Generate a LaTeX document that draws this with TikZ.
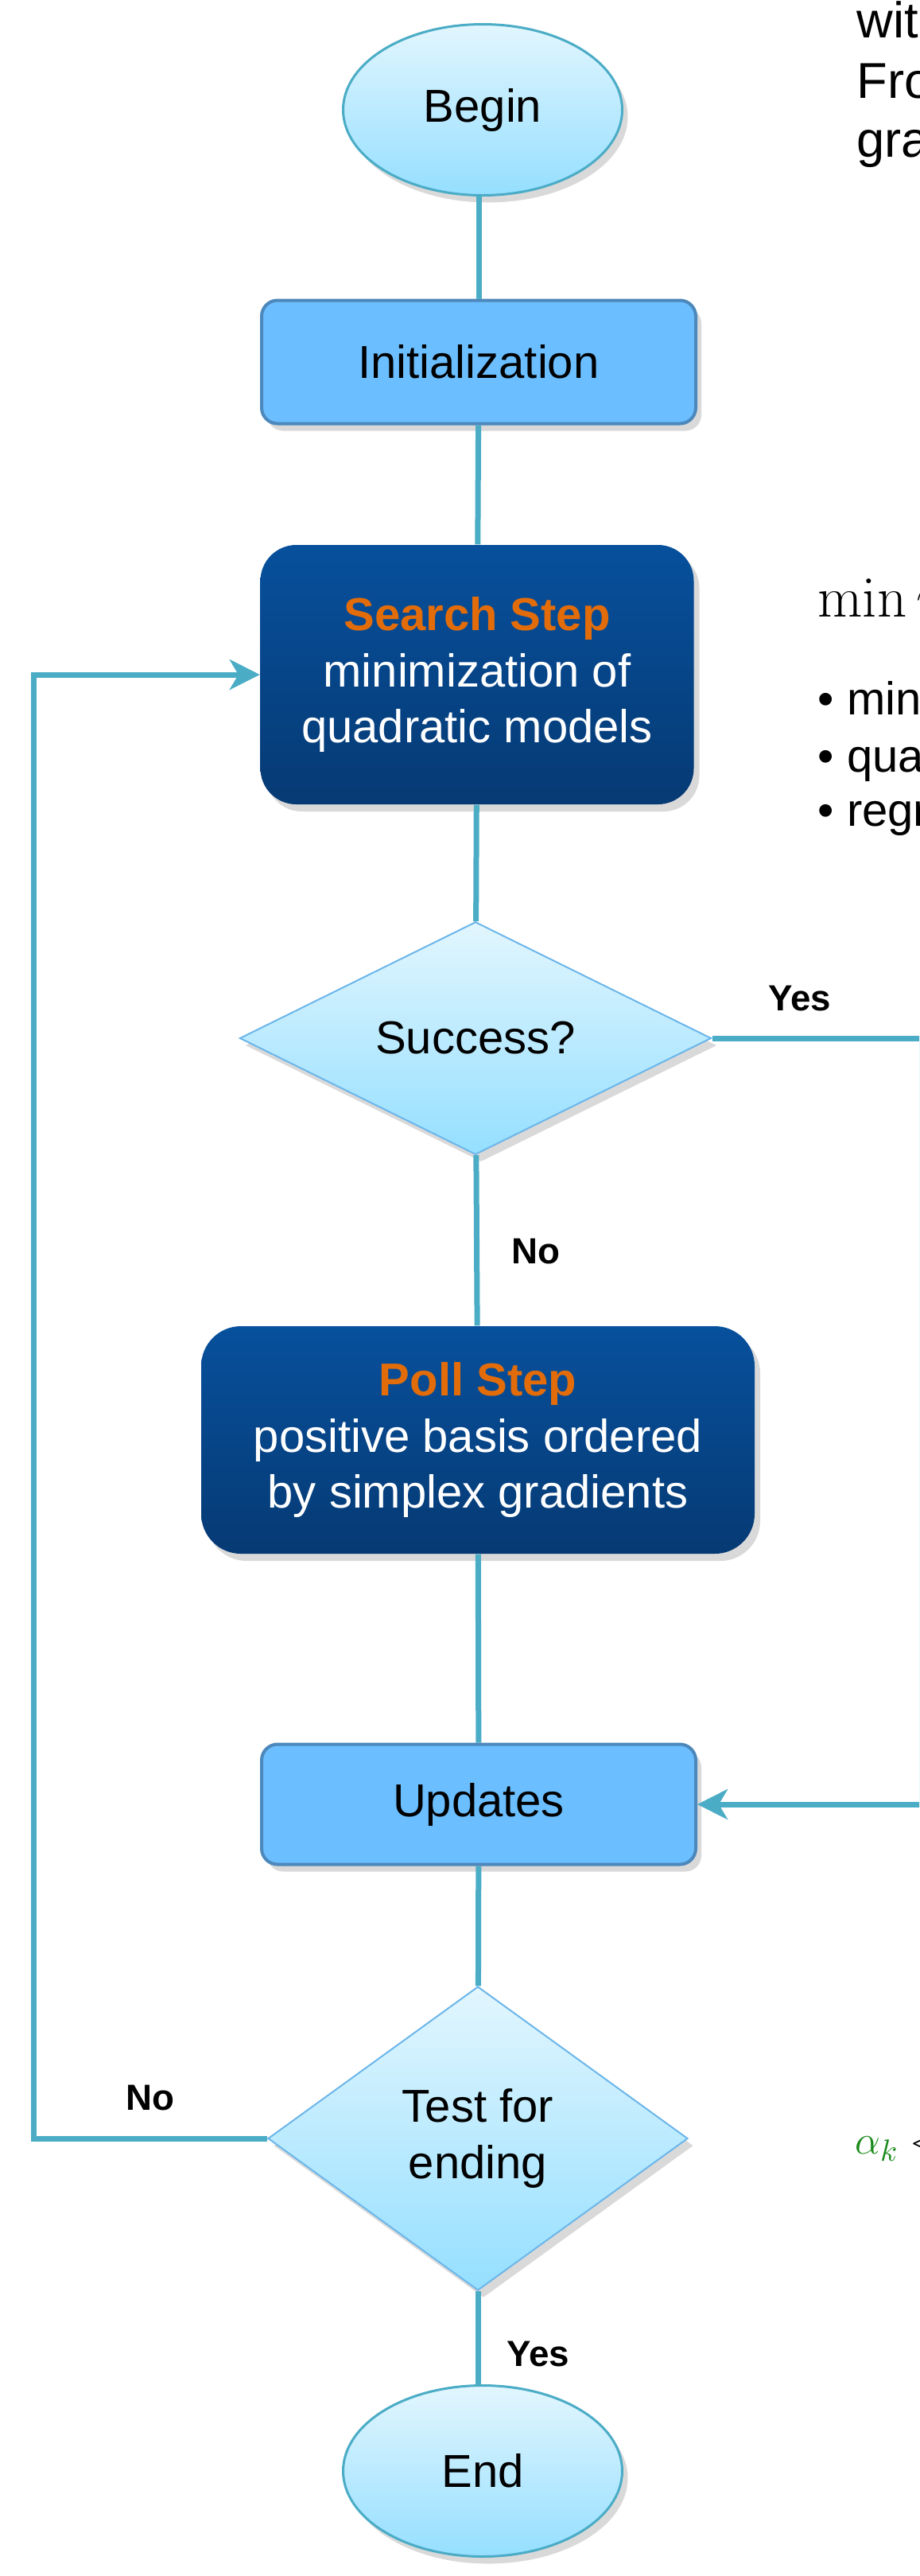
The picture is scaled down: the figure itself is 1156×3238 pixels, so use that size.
\documentclass[tikz,border=0pt]{standalone}
\usepackage[no-math]{fontspec}
\setmainfont{Liberation Sans}
\usepackage{xcolor}
\usetikzlibrary{shapes.geometric,shadows,arrows.meta}

\definecolor{linkcol}{HTML}{4BACC6}
\definecolor{procfill}{HTML}{6BBEFF}
\definecolor{procedge}{HTML}{4C88BC}
\definecolor{steptop}{HTML}{07509C}
\definecolor{stepbot}{HTML}{063A74}
\definecolor{steporange}{HTML}{E36C0A}
\definecolor{palebluetop}{HTML}{E2F6FE}
\definecolor{palebluebot}{HTML}{95DFFF}
\definecolor{diamedge}{HTML}{6CB6EA}
\definecolor{alphagreen}{HTML}{1A8A1A}

\tikzset{
  myshadow/.style={drop shadow={shadow xshift=0.7mm, shadow yshift=-0.9mm, opacity=0.3}},
  terminal/.style={ellipse, myshadow, top color=palebluetop, bottom color=palebluebot,
    draw=linkcol, line width=0.3mm, minimum width=35.1mm, minimum height=21.5mm,
    font=\fontsize{16.5}{20}\selectfont},
  procbox/.style={rectangle, rounded corners=2mm, myshadow, fill=procfill, draw=procedge,
    line width=0.4mm, minimum width=54.6mm, minimum height=15.5mm,
    font=\fontsize{16.5}{20}\selectfont},
  stepbox/.style={rectangle, rounded corners=4.5mm, myshadow, top color=steptop,
    bottom color=stepbot, text=white, align=center,
    font=\fontsize{16.5}{20}\selectfont},
  decision/.style={diamond, myshadow, top color=palebluetop, bottom color=palebluebot,
    draw=diamedge, line width=0.2mm, inner sep=0pt, align=center,
    font=\fontsize{16.5}{20}\selectfont},
  conn/.style={draw=linkcol, line width=0.7mm},
  arr/.style={conn, -{Stealth[length=3.8mm, width=3.8mm, inset=1.1mm]}},
  lbl/.style={font=\fontsize{13}{15}\selectfont\bfseries, anchor=base},
  sidetext/.style={anchor=base west, inner sep=0pt}
}

\begin{document}
\begin{tikzpicture}[x=0.1mm, y=-0.1mm]
  \useasboundingbox (0,0) rectangle (1156,3238);
  \clip (0,0) rectangle (1156,3238);

  % flow chart
  \node[terminal] (begin) at (607,138) {Begin};
  \node[procbox] (init) at (602,455) {Initialization};
  \node[stepbox, minimum width=54.5mm, minimum height=32.6mm] (search) at (600,848)
    {{\color{steporange}\bfseries Search Step}\\minimization of\\quadratic models};
  \node[decision, minimum width=59.3mm, minimum height=27.2mm] (success) at (598,1305) {Success?};
  \node[stepbox, rounded corners=5mm, minimum width=69.6mm, minimum height=28.6mm] (poll) at (601,1810)
    {{\color{steporange}\bfseries Poll Step}\\positive basis ordered\\by simplex gradients};
  \node[procbox, minimum height=15.1mm] (updates) at (602,2268) {Updates};
  \node[decision, minimum width=52.8mm, minimum height=38.2mm] (test) at (601,2688) {Test for\\ending};
  \node[terminal] (end) at (607,3106) {End};

  \coordinate (yesturn) at (1159,1305);
  \coordinate (noturn) at (42,2688);

  % connectors
  \draw[conn] (init.north |- begin.south) -- (init.north);
  \draw[conn] (init) -- (search);
  \draw[conn] (search) -- (success);
  \draw[conn] (success) -- (poll);
  \draw[conn] (poll) -- (updates);
  \draw[conn] (updates) -- (test);
  \draw[conn] (test.south) -- (test.south |- end.north);
  \draw[arr] (success.east) -- (yesturn) |- (updates.east);
  \draw[arr] (test.west) -- (noturn) |- (search.west);

  \node[lbl] (yesright) at (1006,1270) {Yes};
  \node[lbl] (nopoll) at (674,1588) {No};
  \node[lbl] (noleft) at (189,2652) {No};
  \node[lbl] (yesend) at (677,2974) {Yes};

  % text cut by the right edge
  \node[sidetext, font=\fontsize{18}{21}\selectfont] (topnote) at (1077,47) {wit};
  \node[sidetext, font=\fontsize{18}{21}\selectfont] (topnoteb) at (1077,123) {Fro};
  \node[sidetext, font=\fontsize{18}{21}\selectfont] (topnotec) at (1077,197) {gra};
  \node[sidetext, font=\fontsize{20}{24}\selectfont] (minline) at (1028,775) {$\min m$};
  \node[sidetext, font=\fontsize{16.5}{20}\selectfont] (bulleta) at (1028,898) {\textbullet{} min};
  \node[sidetext, font=\fontsize{16.5}{20}\selectfont] (bulletb) at (1028,970) {\textbullet{} qua};
  \node[sidetext, font=\fontsize{16.5}{20}\selectfont] (bulletc) at (1028,1038) {\textbullet{} regr};
  \node[sidetext, font=\fontsize{15}{18}\selectfont] (alphaline) at (1075,2707)
    {$\textcolor{alphagreen}{\alpha_k} <$};
\end{tikzpicture}
\end{document}
